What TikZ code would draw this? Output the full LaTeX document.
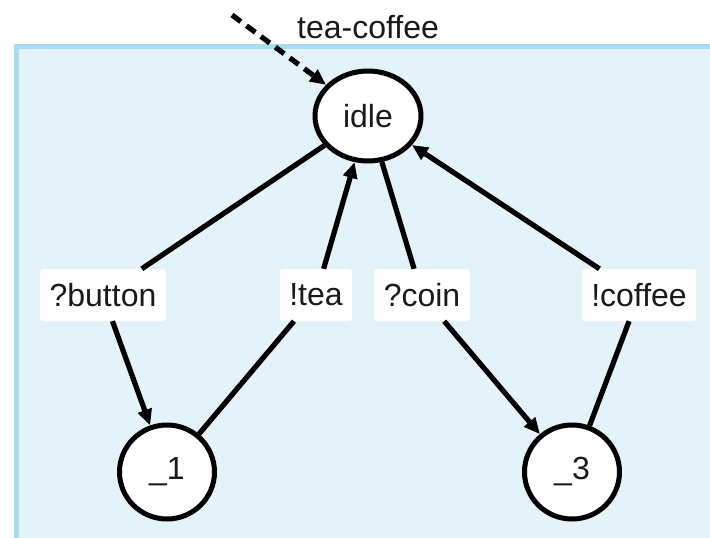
\documentclass[tikz,border=0pt]{standalone}
\usepackage{fontspec}
\setmainfont{Liberation Sans}
\usetikzlibrary{shapes.geometric,arrows.meta}
\definecolor{boxfill}{HTML}{E4F3F9}
\definecolor{boxline}{HTML}{A8DCEE}
\definecolor{ink}{HTML}{1A1A1A}
\begin{document}
\begin{tikzpicture}[x=1pt,y=-1pt,
  txt/.style={text=ink, font=\fontsize{32}{38}\selectfont},
  state/.style={txt, ellipse, draw=black, line width=5pt, fill=white, inner sep=0pt},
  lab/.style={txt, fill=white, rounded corners=3pt, minimum height=52pt, inner xsep=9.5pt, inner ysep=0pt},
  edge/.style={line width=5.2pt, -{Triangle[length=16pt,width=14pt]}},
  initedge/.style={edge, dash pattern=on 11pt off 7pt}]
\useasboundingbox (0,0) rectangle (710,538);
\clip (0,0) rectangle (710,538);
\draw[boxline, fill=boxfill, line width=5pt] (16,46) rectangle (760,600);
\node[txt] (title) at (368,27) {tea-coffee};
\node[state, minimum width=106pt, minimum height=90pt] (idle) at (368,116) {idle};
\node[state, minimum width=95pt, minimum height=94pt] (s1) at (167,472) {\_1};
\node[state, minimum width=95pt, minimum height=94pt] (s3) at (572,472) {\_3};
\node[lab] (lbutton) at (103,295) {?button};
\node[lab] (ltea) at (316,295) {!tea};
\node[lab] (lcoin) at (422,295) {?coin};
\node[lab] (lcoffee) at (639,295) {!coffee};
\coordinate (start) at (232,15);
\draw[initedge] (start) -- (idle);
\draw[edge] (idle) -- (lbutton) -- (s1);
\draw[edge] (s1) -- (ltea) -- (idle);
\draw[edge] (idle) -- (lcoin) -- (s3);
\draw[edge] (s3) -- (lcoffee) -- (idle);
\end{tikzpicture}
\end{document}
